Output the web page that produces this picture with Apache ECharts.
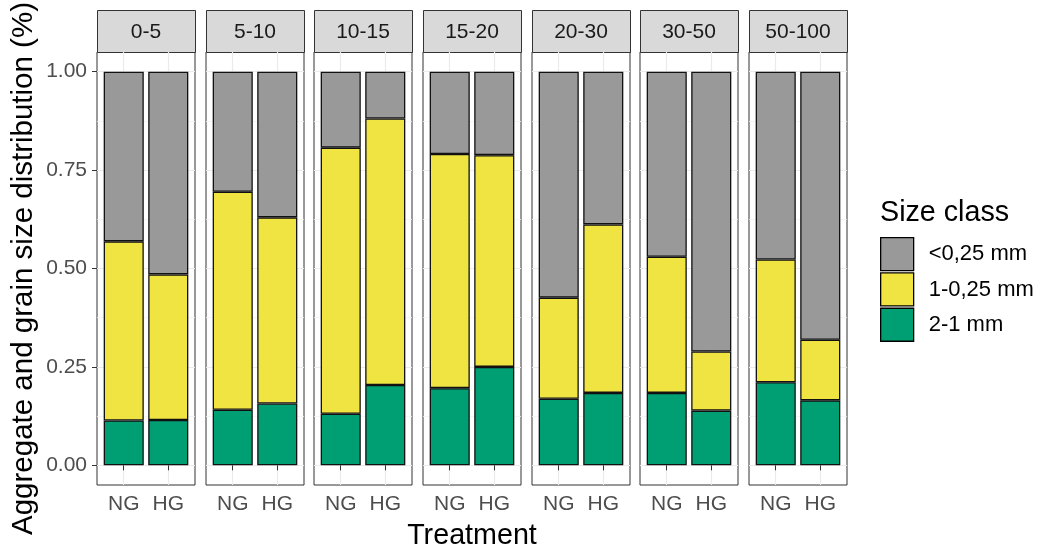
<!DOCTYPE html>
<html><head><meta charset="utf-8">
<script src="https://cdn.jsdelivr.net/npm/echarts@6/dist/echarts.min.js"></script>
<style>html,body{margin:0;padding:0;background:#fff}#c{width:1040px;height:550px}</style>
</head><body><div id="c"></div>
<script>
// ---- data ----
const depths = ['0-5', '5-10', '10-15', '15-20', '20-30', '30-50', '50-100'];
const treatments = ['NG', 'HG'];
const sizeClasses = ['<0,25 mm', '1-0,25 mm', '2-1 mm'];
// 2-1 mm fraction
const coarseNG = [0.114, 0.141, 0.131, 0.196, 0.169, 0.184, 0.211];
const coarseHG = [0.115, 0.157, 0.204, 0.250, 0.184, 0.139, 0.165];
// 1-0,25 mm fraction
const mediumNG = [0.455, 0.554, 0.676, 0.595, 0.257, 0.346, 0.312];
const mediumHG = [0.370, 0.473, 0.677, 0.538, 0.428, 0.150, 0.154];
// <0,25 mm fraction
const fineNG = [0.431, 0.305, 0.193, 0.209, 0.574, 0.470, 0.477];
const fineHG = [0.515, 0.370, 0.119, 0.212, 0.388, 0.711, 0.681];
const yTicks = [0, 0.25, 0.5, 0.75, 1];
const yMinor = [0.125, 0.375, 0.625, 0.875];

// ---- layout / style ----
const FONT = '"Liberation Sans", Arial, sans-serif';
const P = { left0: 97, pitch: 108.67, width: 98, top: 52, bottom: 485, stripTop: 10 };
const colors = { '2-1 mm': '#009E73', '1-0,25 mm': '#F0E442', '<0,25 mm': '#999999' };
const barWidth = 0.9 * P.width / 2.2;

const classData = [
  { name: sizeClasses[2], ng: coarseNG, hg: coarseHG },
  { name: sizeClasses[1], ng: mediumNG, hg: mediumHG },
  { name: sizeClasses[0], ng: fineNG, hg: fineHG }
];

const grids = [], xAxes = [], yAxes = [], series = [], graphics = [];
depths.forEach((d, i) => {
  const left = Math.round(P.left0 + i * P.pitch);
  grids.push({ left: left, top: P.top, width: P.width, height: P.bottom - P.top,
    show: true, borderColor: '#333333', borderWidth: 1, backgroundColor: '#ffffff',
    containLabel: false, outerBoundsMode: 'none' });
  xAxes.push({
    gridIndex: i, type: 'value', min: 0.4, max: 2.6,
    axisLine: { show: false },
    axisTick: { show: true, customValues: [1, 2], length: 5, lineStyle: { color: '#333333', width: 1 } },
    axisLabel: { customValues: [1, 2], formatter: v => treatments[Math.round(v) - 1],
      color: '#4D4D4D', fontSize: 21, fontFamily: FONT, margin: 9 },
    splitLine: { show: true, lineStyle: { color: '#EBEBEB', width: 1.2 } },
    name: i === 3 ? 'Treatment' : '', nameLocation: 'middle', nameGap: 37,
    nameTextStyle: { fontSize: 28.7, color: '#000000', fontFamily: FONT }
  });
  yAxes.push({
    gridIndex: i, type: 'value', min: -0.05, max: 1.05,
    axisLine: { show: false },
    axisTick: { show: i === 0, customValues: yTicks, length: 5, lineStyle: { color: '#333333', width: 1 } },
    axisLabel: { show: i === 0, customValues: yTicks, formatter: v => v.toFixed(2),
      color: '#4D4D4D', fontSize: 21, fontFamily: FONT, margin: 10 },
    splitLine: { show: true, lineStyle: { color: '#EBEBEB', width: 1.2 } },
    name: i === 0 ? 'Aggregate and grain size distribution (%)' : '', nameLocation: 'middle', nameGap: 58,
    nameTextStyle: { fontSize: 29.5, color: '#000000', fontFamily: FONT }
  });
  yAxes.push({
    gridIndex: i, type: 'value', min: -0.05, max: 1.05, position: 'left',
    axisLine: { show: false },
    axisTick: { show: false, customValues: yMinor },
    axisLabel: { show: false, customValues: yMinor },
    splitLine: { show: true, lineStyle: { color: '#F3F3F3', width: 0.8 } }
  });
  classData.forEach(c => {
    series.push({
      type: 'bar', name: c.name, xAxisIndex: i, yAxisIndex: 2 * i, stack: 'stack' + i,
      barWidth: barWidth,
      // column 0 = share (y), column 1 = treatment position (x)
      data: [[c.ng[i], 1], [c.hg[i], 2]],
      encode: { y: 0, x: 1 },
      itemStyle: { color: colors[c.name], borderColor: '#111111', borderWidth: 1.3 },
      emphasis: { disabled: true }, silent: true
    });
  });
  graphics.push({ type: 'rect', shape: { x: left + 0.5, y: P.stripTop + 0.5, width: P.width, height: P.top - P.stripTop },
    style: { fill: '#D9D9D9', stroke: '#333333', lineWidth: 1 } });
  graphics.push({ type: 'text', x: left + P.width / 2, y: (P.stripTop + P.top) / 2 + 1,
    style: { text: d, align: 'center', verticalAlign: 'middle', font: '21px ' + FONT, fill: '#1A1A1A' } });
});

const option = {
  animation: false,
  backgroundColor: '#ffffff',
  title: [
    { text: 'Aggregate and grain size distribution at different depths', left: 97, top: -24, padding: 0,
      textStyle: { fontSize: 24.5, fontWeight: 'bold', color: '#000000', fontFamily: FONT } },
    { text: 'Size class', left: 880, top: 199, padding: 0,
      textStyle: { fontSize: 28.7, fontWeight: 'normal', color: '#000000', fontFamily: FONT } }
  ],
  legend: {
    left: 880, top: 237, orient: 'vertical', padding: 0,
    itemWidth: 33, itemHeight: 33, itemGap: 1, icon: 'rect', selectedMode: false,
    data: sizeClasses,
    itemStyle: { borderColor: '#000000', borderWidth: 1.3 },
    textStyle: { fontSize: 22, color: '#000000', fontFamily: FONT, padding: [0, 0, 0, 10] }
  },
  grid: grids,
  xAxis: xAxes,
  yAxis: yAxes,
  series: series,
  graphic: graphics
};
const chart = echarts.init(document.getElementById('c'));
chart.setOption(option);
</script>
</body></html>
